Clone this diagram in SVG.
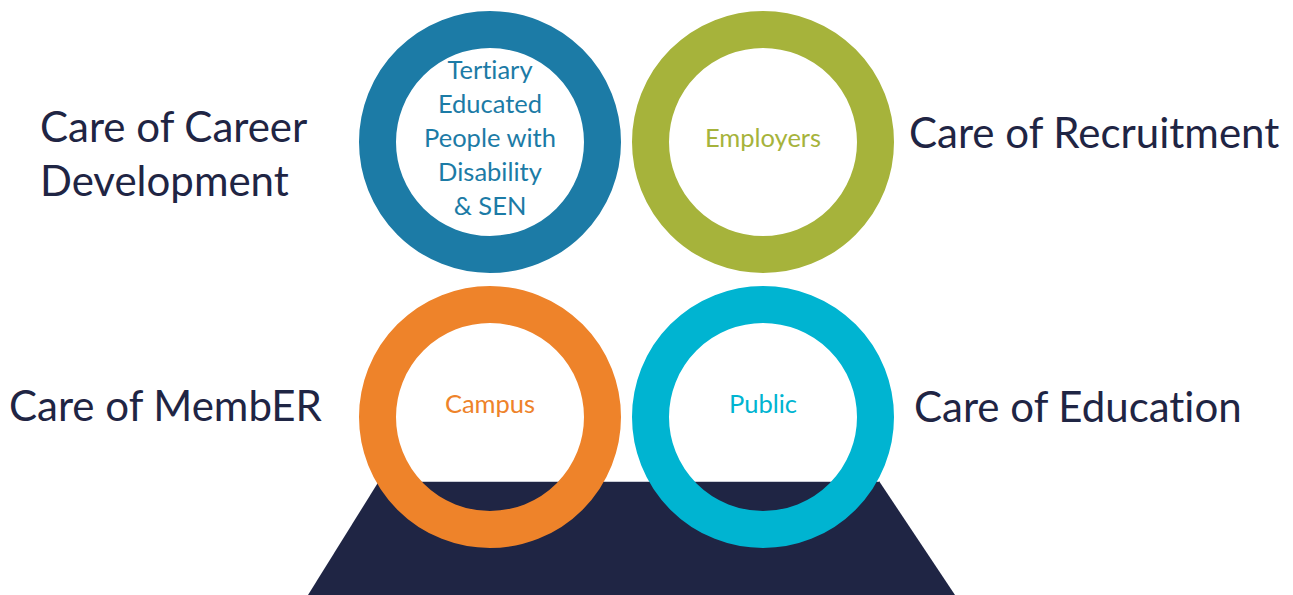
<svg xmlns="http://www.w3.org/2000/svg" width="1293" height="595" viewBox="0 0 1293 595">
<style>
text{font-variant-ligatures:none;font-feature-settings:"liga" 0,"dlig" 0}
.care{font-family:Lato,"Liberation Sans",sans-serif;font-size:42px;fill:#1f2544}
.lbl{font-family:Lato,"Liberation Sans",sans-serif;font-size:25.5px;text-anchor:middle}
.ring{fill:none;stroke-width:37}
</style>
<rect width="1293" height="595" fill="#ffffff"/>
<g id="base">
<polygon points="379,481 879,481 955,595 308,595" fill="#1f2544"/>
<line x1="379" y1="481.5" x2="879" y2="481.5" stroke="#c9ccd6" stroke-width="1"/>
</g>
<g id="connectors"></g>
<g id="node-disability">
<circle class="ring" cx="490" cy="142" r="112.5" stroke="#1c7ba6"/>
<text class="lbl" fill="#1c7ba6" x="490"><tspan x="490" y="79">Tertiary</tspan><tspan x="490" y="113">Educated</tspan><tspan x="490" y="147">People with</tspan><tspan x="490" y="181">Disability</tspan><tspan x="490" y="215">&amp; SEN</tspan></text>
</g>
<g id="node-employers">
<circle class="ring" cx="763" cy="142" r="112.5" stroke="#a6b33b"/>
<text class="lbl" fill="#a6b33b" x="763" y="147">Employers</text>
</g>
<g id="node-campus">
<circle class="ring" cx="490" cy="417" r="112.5" stroke="#ee832a"/>
<text class="lbl" fill="#ee832a" x="490" y="413">Campus</text>
</g>
<g id="node-public">
<circle class="ring" cx="763" cy="417" r="112.5" stroke="#00b4d1"/>
<text class="lbl" fill="#00b4d1" x="763" y="413">Public</text>
</g>
<g id="captions">
<text class="care" x="40" y="142">Care of Career</text>
<text class="care" x="40" y="196">Development</text>
<text class="care" x="909" y="148">Care of Recruitment</text>
<text class="care" x="9" y="421">Care of MembER</text>
<text class="care" x="914" y="422">Care of Education</text>
</g>
</svg>
